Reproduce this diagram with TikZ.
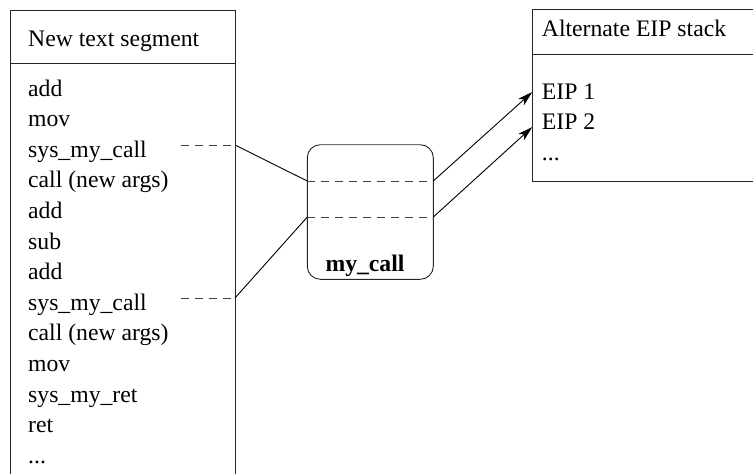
\documentclass[tikz,border=0pt]{standalone}
\usepackage{fontspec}
\setmainfont{Liberation Serif}
\usetikzlibrary{
  arrows.meta,
  positioning,
}

\begin{document}
\begin{tikzpicture}[
  x=1pt,
  y=-1pt,
  font={\fontsize{23.7}{28}\selectfont},
  frame/.style={
    draw=black!85,
    line width=0.9pt,
  },
  entry/.style={
    anchor=base west,
    inner xsep=0pt,
    inner ysep=0pt,
  },
  dashline/.style={
    draw=black!75,
    line width=0.9pt,
    dash pattern=on 8pt off 6pt,
  },
  link/.style={
    draw=black,
    line width=0.9pt,
  },
  arrow/.style={
    link,
    -{Stealth[length=15pt,width=8.5pt,inset=4pt]},
  },
]
  \useasboundingbox (0,0) rectangle (753,474);

  %%%%%%%%%%%%%%%%%%%% TEXT SEGMENT %%%%%%%%%%%%%%%%%%%%

  \node[frame, anchor=north west, inner sep=0pt,
    minimum width=225pt, minimum height=463.5pt] (seg) at (10,10) {};
  \draw[frame] (10,63) -- (235,63);

  \node[entry] (segname) at (28,46.7) {New text segment};

  \foreach \txt [count=\i] in {add, mov, sys\_my\_call, call (new args),
    add, sub, add, sys\_my\_call, call (new args), mov, sys\_my\_ret, ret} {
    \node[entry] (item-\i) at (28,{96 + (\i - 1) * 30.6}) {\txt};
  }
  \node[entry] (item-13) at (28,463.2) {...};

  \coordinate (stub-1) at (181,145);
  \coordinate (hook-1) at (235,145);
  \coordinate (stub-2) at (181,298);
  \coordinate (hook-2) at (235,298);

  \draw[dashline] (stub-1) -- (hook-1);
  \draw[dashline] (stub-2) -- (hook-2);

  %%%%%%%%%%%%%%%%%%%% MY_CALL %%%%%%%%%%%%%%%%%%%%

  \node[frame, rounded corners=13pt, inner sep=0pt,
    minimum width=126pt, minimum height=134.6pt] (mycall) at (370.3,212) {};
  \node[anchor=base, inner sep=0pt,
    font={\fontsize{23.7}{28}\selectfont\bfseries}]
    (mycallname) at (365,271) {my\_call};

  \coordinate (in-1) at (307.3,181);
  \coordinate (out-1) at (433.3,181);
  \coordinate (in-2) at (307.3,217);
  \coordinate (out-2) at (433.3,217);

  \draw[dashline] (in-1) -- (out-1);
  \draw[dashline] (in-2) -- (out-2);

  \draw[link] (hook-1) -- (in-1);
  \draw[link] (hook-2) -- (in-2);

  %%%%%%%%%%%%%%%%%%%% EIP STACK %%%%%%%%%%%%%%%%%%%%

  \node[frame, anchor=north west, inner sep=0pt,
    minimum width=220.5pt, minimum height=171.7pt] (stack) at (532.3,9.3) {};
  \draw[frame] (532.3,54.3) -- (752.8,54.3);

  \node[entry] (stackname) at (541.7,36) {Alternate EIP stack};

  \node[entry] (eip-1) at (541.7,99) {EIP 1};
  \node[entry] (eip-2) at (541.7,129) {EIP 2};
  \node[entry] (eip-more) at (541.7,160) {...};

  \coordinate (tip-1) at (532.3,92);
  \coordinate (tip-2) at (532.3,127);

  \draw[arrow] (out-1) -- (tip-1);
  \draw[arrow] (out-2) -- (tip-2);
\end{tikzpicture}
\end{document}
